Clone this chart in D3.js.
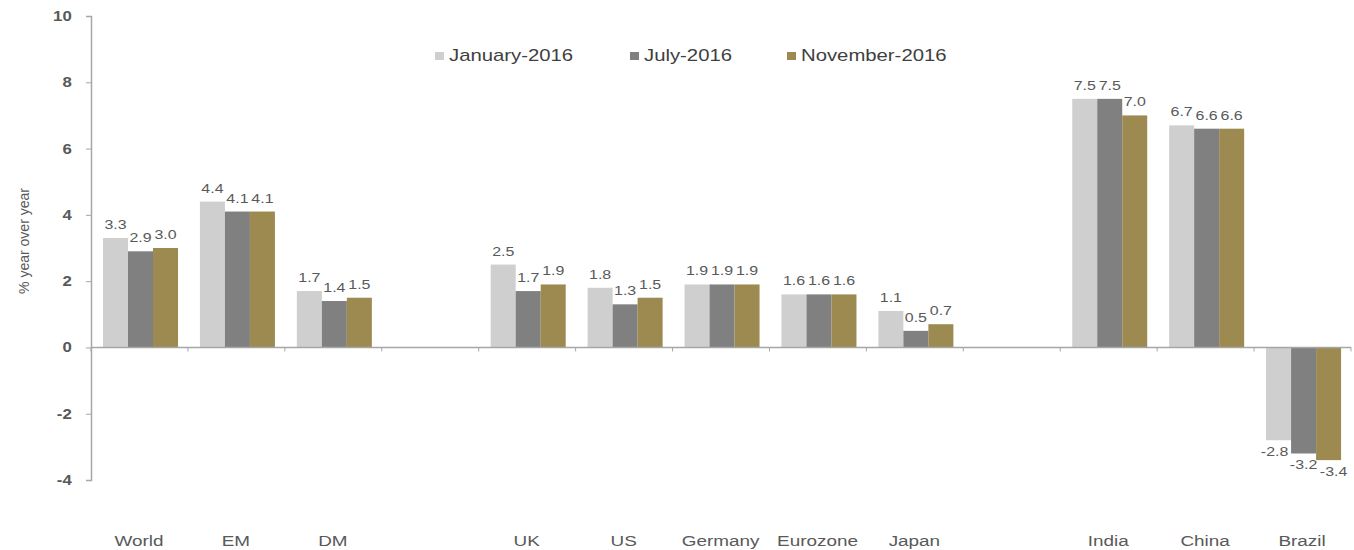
<!DOCTYPE html>
<html>
<head>
<meta charset="utf-8">
<script src="https://cdn.jsdelivr.net/npm/d3@7/dist/d3.min.js"></script>
<style>
  body { margin: 0; background: #fff; }
  svg { display: block; font-family: "Liberation Sans", Arial, sans-serif; }
</style>
</head>
<body>
<div id="chartDiv"></div>
<script>
// categories ('' = empty spacer slot)
var categories = ['World', 'EM', 'DM', '', 'UK', 'US', 'Germany', 'Eurozone', 'Japan', '', 'India', 'China', 'Brazil'];
var seriesNames = ['January-2016', 'July-2016', 'November-2016'];
var jan2016 = [3.3, 4.4, 1.7, null, 2.5, 1.8, 1.9, 1.6, 1.1, null, 7.5, 6.7, -2.8];
var jul2016 = [2.9, 4.1, 1.4, null, 1.7, 1.3, 1.9, 1.6, 0.5, null, 7.5, 6.6, -3.2];
var nov2016 = [3.0, 4.1, 1.5, null, 1.9, 1.5, 1.9, 1.6, 0.7, null, 7.0, 6.6, -3.4];
var yTicks = [-4, -2, 0, 2, 4, 6, 8, 10];
var fills = ['#cfcfcf', '#808080', '#9c8a50'];

var width = 1354, height = 550;
var series = [jan2016, jul2016, nov2016];

// the original picture is stretched sideways, so text gets a horizontal scale
var stretch = function(sx) { return 'scale(' + sx + ',1)'; };

var svg = d3.select('#chartDiv').append('svg')
  .attr('width', width)
  .attr('height', height);

var x = d3.scaleBand()
  .domain(d3.range(categories.length))
  .range([91, 1351]);

var xInner = d3.scaleBand()
  .domain(d3.range(seriesNames.length))
  .range([12, 87]);

var y = d3.scaleLinear()
  .domain([-4, 10])
  .range([480, 16]);

// y axis (hyphen minus like the original)
var yAxis = svg.append('g')
  .attr('transform', 'translate(91,0)')
  .call(d3.axisLeft(y).tickValues(yTicks).tickSize(5).tickPadding(11).tickFormat(function(d) { return String(d); }));
yAxis.select('.domain').attr('stroke', '#a6a6a6').attr('stroke-width', 1.5);
yAxis.selectAll('.tick line').attr('stroke', '#a6a6a6');
yAxis.selectAll('.tick text')
  .attr('fill', '#595959')
  .attr('transform', stretch(1.2))
  .style('font-size', '14px')
  .style('font-weight', 'bold');

svg.append('text')
  .attr('transform', 'translate(29,241) rotate(-90)')
  .attr('text-anchor', 'middle')
  .attr('fill', '#595959')
  .style('font-size', '14px')
  .text('% year over year');

// bars
var negShift = [-4, 0, 5];
var groups = svg.selectAll('.group')
  .data(categories)
  .enter()
  .append('g')
  .attr('class', 'group')
  .attr('transform', function(d, i) { return 'translate(' + x(i) + ',0)'; });

groups.each(function(c, i) {
  var g = d3.select(this);
  series.forEach(function(s, j) {
    var v = s[i];
    if (v === null) return;
    g.append('rect')
      .attr('x', xInner(j))
      .attr('width', xInner.bandwidth())
      .attr('y', y(Math.max(0, v)))
      .attr('height', Math.abs(y(v) - y(0)))
      .style('fill', fills[j]);
    var lx = xInner(j) + xInner.bandwidth() / 2 + (v < 0 ? negShift[j] : 0);
    var ly = v >= 0 ? y(v) - 9 : y(v) + 16;
    g.append('text')
      .attr('transform', 'translate(' + lx + ',' + ly + ') ' + stretch(1.18))
      .attr('text-anchor', 'middle')
      .attr('fill', '#595959')
      .style('font-size', '13.5px')
      .text(v.toFixed(1));
  });
});

// zero line with small slot ticks
svg.append('line')
  .attr('x1', 91).attr('x2', 1351)
  .attr('y1', y(0)).attr('y2', y(0))
  .attr('stroke', '#a6a6a6').attr('stroke-width', 1.5);

svg.selectAll('.slotTick')
  .data(d3.range(categories.length + 1))
  .enter()
  .append('line')
  .attr('x1', function(d) { return 91 + d * x.step(); })
  .attr('x2', function(d) { return 91 + d * x.step(); })
  .attr('y1', y(0)).attr('y2', y(0) + 4)
  .attr('stroke', '#a6a6a6');

// category labels
svg.selectAll('.catLabel')
  .data(categories)
  .enter()
  .append('text')
  .attr('transform', function(d, i) { return 'translate(' + (x(i) + 48) + ',546) ' + stretch(1.22); })
  .attr('text-anchor', 'middle')
  .attr('fill', '#595959')
  .style('font-size', '15.5px')
  .text(function(d) { return d; });

// legend
var legendX = [435, 630, 787];
var legend = svg.selectAll('.legend')
  .data(seriesNames)
  .enter()
  .append('g')
  .attr('transform', function(d, i) { return 'translate(' + legendX[i] + ',55)'; });

legend.append('rect')
  .attr('x', 0).attr('y', -3)
  .attr('width', 9).attr('height', 8)
  .style('fill', function(d, i) { return fills[i]; });

legend.append('text')
  .attr('transform', 'translate(14,6) ' + stretch(1.27))
  .attr('fill', '#404040')
  .style('font-size', '16px')
  .text(function(d) { return d; });
</script>
</body>
</html>
